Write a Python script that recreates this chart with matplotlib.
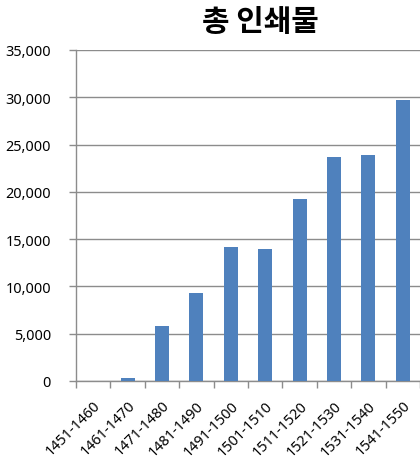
import matplotlib
matplotlib.use("Agg")
import matplotlib.pyplot as plt
import numpy as np

plt.rcParams["font.family"] = ["Noto Sans", "Noto Sans CJK KR", "DejaVu Sans"]

periods = ["1451-1460", "1461-1470", "1471-1480", "1481-1490", "1491-1500",
           "1501-1510", "1511-1520", "1521-1530", "1531-1540", "1541-1550"]
prints = [0, 350, 5780, 9300, 14150, 13950, 19250, 23680, 23890, 29750]
title = "총 인쇄물"

bar_color = "#4F81BD"
grid_color = "#8c8c8c"

fig = plt.figure(figsize=(4.2, 4.64), dpi=100)
ax = fig.add_axes([76 / 420, 1 - 382 / 464, 344 / 420, 331 / 464])

x = np.arange(len(periods))
ax.bar(x, prints, width=0.41, color=bar_color, zorder=3)

ax.set_xlim(-0.5, len(periods) - 0.5)
ax.set_ylim(0, 35000)
ax.set_yticks(np.arange(0, 35001, 5000))
ax.set_yticklabels([f"{v:,}" for v in range(0, 35001, 5000)], fontsize=10.4)
ax.yaxis.grid(True, color=grid_color, linewidth=1, zorder=0)

ax.set_xticks(x)
ax.set_xticklabels(periods, rotation=45, ha="right", rotation_mode="anchor", fontsize=10.4)
ax.set_xticks(np.arange(-0.5, len(periods), 1), minor=True)
ax.tick_params(axis="x", which="major", length=0, pad=12)
ax.tick_params(axis="x", which="minor", length=5, color=grid_color, width=1)
ax.tick_params(axis="y", length=5, color=grid_color, width=1, pad=13)

for side in ["top", "right"]:
    ax.spines[side].set_visible(False)
for side in ["left", "bottom"]:
    ax.spines[side].set_color(grid_color)
    ax.spines[side].set_linewidth(1)

fig.text(260 / 420, 1 - 22 / 464, title, ha="center", va="center",
         fontsize=21.5, fontweight="bold", family="Noto Sans CJK KR")

fig.savefig("out.png", dpi=100)
